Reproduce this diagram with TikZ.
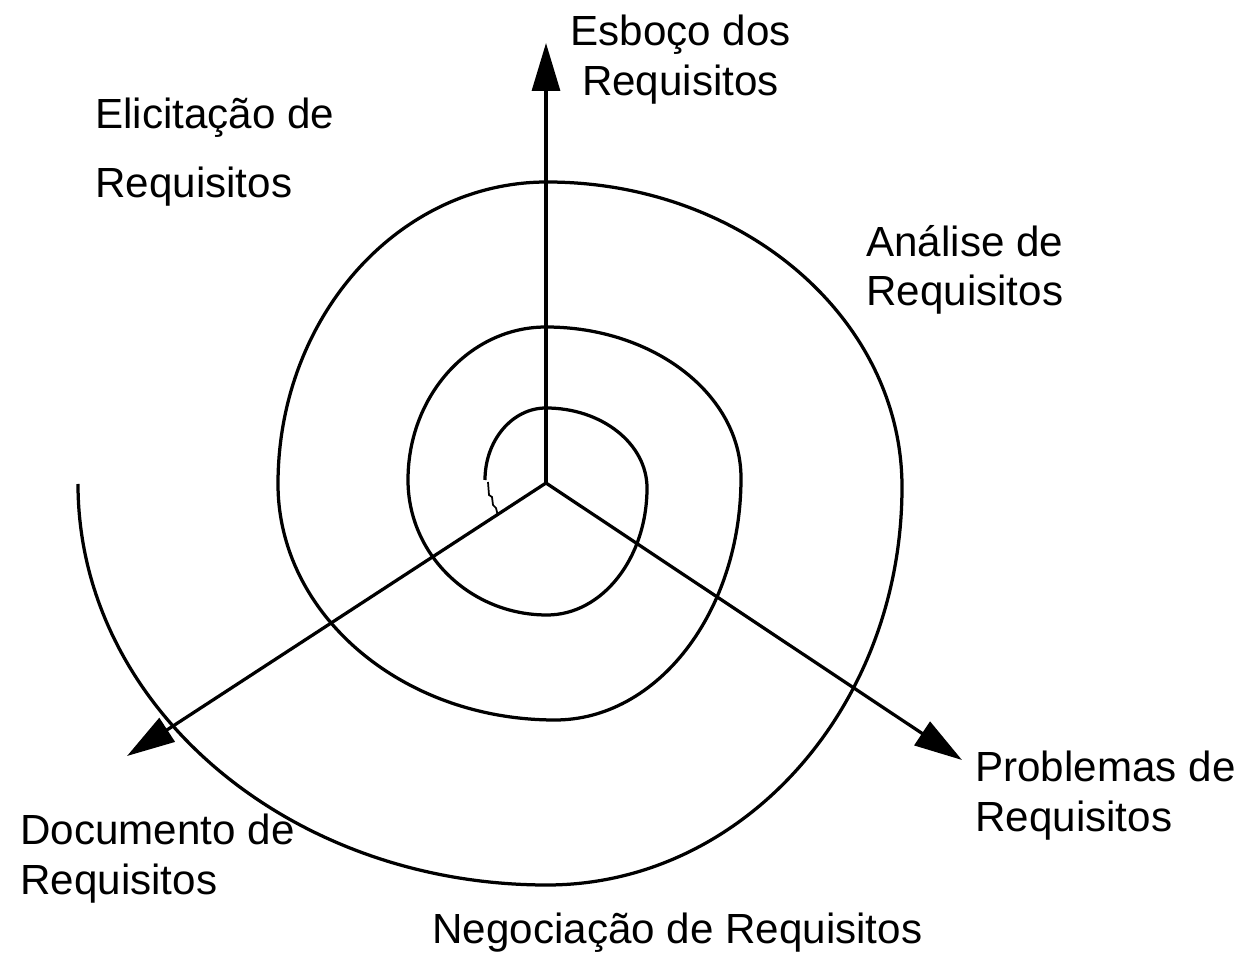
\documentclass[tikz,border=0pt]{standalone}
\usepackage{fontspec}
\setmainfont{Liberation Sans}
\usetikzlibrary{arrows.meta}

\begin{document}
\begin{tikzpicture}[x=0.02cm,y=-0.02cm,
	lbl/.style={anchor=north west,inner sep=0pt,align=left,font=\fontsize{24}{28}\selectfont},
	axis/.style={line width=0.065cm,-{Triangle[length=0.96cm,width=0.56cm]}},
	curve/.style={line width=0.065cm,line join=round}]
	\useasboundingbox (0,0) rectangle (1241,955);
	\coordinate (o) at (546,483);
	\coordinate (up) at (546,43);
	\coordinate (dl) at (127,756);
	\coordinate (dr) at (962,760);
	\node[lbl,align=center] (esboco) at (570,15) {Esboço dos\\Requisitos};
	\node[lbl] (elicit) at (95,98)      {Elicitação de\\[11pt]Requisitos};
	\node[lbl] (analise) at (866,225)   {Análise de\\Requisitos};
	\node[lbl] (problemas) at (975,751) {Problemas de\\Requisitos};
	\node[lbl] (documento) at (20,814)  {Documento de\\Requisitos};
	\node[lbl] (negoc) at (432,913)     {Negociação de Requisitos};
	\draw[axis] (o) -- (up);
	\draw[axis] (o) -- (dl);
	\draw[axis] (o) -- (dr);
	% spiral: quarter ellipses, from the centre outwards
	\draw[curve] (485,480)
		arc[start angle=180,end angle=270,x radius=61,y radius=72]
		arc[start angle=270,end angle=360,x radius=101,y radius=80]
		arc[start angle=0,end angle=90,x radius=100,y radius=127]
		arc[start angle=90,end angle=180,x radius=139,y radius=135]
		arc[start angle=180,end angle=270,x radius=138,y radius=153]
		arc[start angle=270,end angle=360,x radius=195,y radius=151]
		arc[start angle=0,end angle=90,x radius=186,y radius=242]
		arc[start angle=90,end angle=180,x radius=277,y radius=236]
		arc[start angle=180,end angle=270,x radius=269,y radius=302]
		arc[start angle=270,end angle=360,x radius=355,y radius=305]
		arc[start angle=0,end angle=90,x radius=355,y radius=398]
		arc[start angle=90,end angle=180,x radius=469,y radius=401];
	\draw[line width=0.035cm] (488,482) -- (489,495) -- (492,497) -- (493,505) -- (496,508) -- (498,516);
\end{tikzpicture}
\end{document}
